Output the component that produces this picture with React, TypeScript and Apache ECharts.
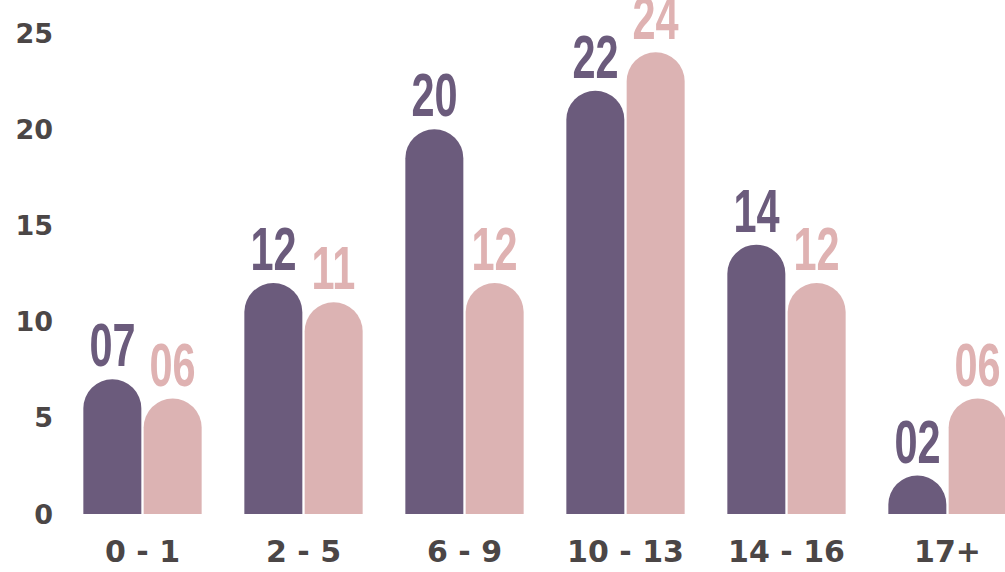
import React, { useEffect, useRef } from "react";
import * as echarts from "echarts";

const categories = ["0 - 1", "2 - 5", "6 - 9", "10 - 13", "14 - 16", "17+"];
const purpleValues = [7, 12, 20, 22, 14, 2];
const pinkValues = [6, 11, 12, 24, 12, 6];
const yTicks = { min: 0, max: 25, interval: 5 };

const PURPLE = "#6b5b7c";
const PINK = "#dcb3b3";
const PINK_TEXT = "#dfb2b2";
const AXIS_TEXT = "#4b4646";

const BAR_W = 58;
const BAR_OFFSET = 30;

function pad(v: number) {
  return v < 10 ? "0" + v : String(v);
}

function labelSeries(values: number[], side: number, color: string) {
  return {
    type: "custom",
    data: values.map((v, i) => [i, v]),
    encode: { x: 0, y: 1 },
    z: 5,
    renderItem: (params: any, api: any) => {
      const idx = api.value(0);
      const val = api.value(1);
      const p = api.coord([idx, val]);
      return {
        type: "text",
        x: p[0] + side * BAR_OFFSET,
        y: p[1] - 11,
        scaleX: 0.68,
        style: {
          text: pad(val),
          fill: color,
          font: "bold 61px 'Liberation Sans', Arial, sans-serif",
          lineHeight: 46,
          textAlign: "center",
          textVerticalAlign: "bottom",
        },
      };
    },
  };
}

export default function App() {
  const ref = useRef<HTMLDivElement>(null);
  useEffect(() => {
    if (!ref.current) return;
    const chart = echarts.init(ref.current, undefined, { renderer: "svg" });
    chart.setOption({
      animation: false,
      backgroundColor: "#ffffff",
      grid: { left: 62, top: 33, right: 0, bottom: 58, containLabel: false },
      xAxis: {
        type: "category",
        data: categories,
        axisLine: { show: false },
        axisTick: { show: false },
        axisLabel: {
          color: AXIS_TEXT,
          fontFamily: "'DejaVu Sans', sans-serif",
          fontWeight: "bold",
          fontSize: 30,
          margin: 22,
        },
      },
      yAxis: {
        type: "value",
        min: yTicks.min,
        max: yTicks.max,
        interval: yTicks.interval,
        splitLine: { show: false },
        axisLine: { show: false },
        axisTick: { show: false },
        axisLabel: {
          color: AXIS_TEXT,
          fontFamily: "'DejaVu Sans', sans-serif",
          fontWeight: "bold",
          fontSize: 27,
          margin: 9,
        },
      },
      series: [
        {
          type: "bar",
          data: purpleValues,
          barWidth: BAR_W,
          barGap: "4%",
          itemStyle: { color: PURPLE, borderRadius: [29, 29, 0, 0] },
        },
        {
          type: "bar",
          data: pinkValues,
          barWidth: BAR_W,
          barGap: "4%",
          itemStyle: { color: PINK, borderRadius: [29, 29, 0, 0] },
        },
        labelSeries(purpleValues, -1, PURPLE),
        labelSeries(pinkValues, 1, PINK_TEXT),
      ],
    });
    return () => chart.dispose();
  }, []);
  return (
    <div
      style={{ position: "fixed", left: 0, top: 0, width: 1005, height: 572, overflow: "hidden", background: "#fff" }}
    >
      <div ref={ref} style={{ width: 1028, height: 572 }} />
    </div>
  );
}
